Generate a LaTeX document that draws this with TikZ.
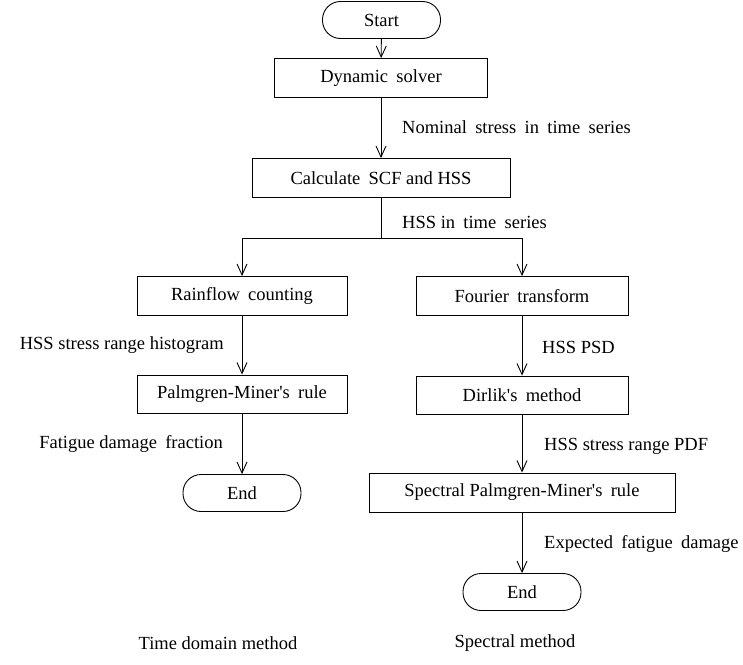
\documentclass[tikz,border=0pt]{standalone}
\usepackage{fontspec}
\setmainfont{Liberation Serif}
\usetikzlibrary{arrows.meta,positioning}
\newcommand{\ws}{\hspace{0.45em}}
\newcommand{\apo}{\textquotesingle}
\begin{document}
\begin{tikzpicture}[x=1pt,y=-1pt,
  every node/.style={font=\fontsize{18.5}{22}\selectfont, inner sep=0pt},
  box/.style={draw, line width=0.9pt, minimum height=39pt},
  term/.style={draw, line width=0.9pt, rounded corners=18pt, minimum width=118pt, minimum height=37pt},
  arr/.style={line width=0.9pt, -{Straight Barb[length=11pt,width=10pt,line width=0.9pt]}},
  lbl/.style={}]
\useasboundingbox (0,0) rectangle (743,664);
\node[term] (start) at (381.5,20) {Start};
\node[box, minimum width=213pt] (dyn) at (381,78) {Dynamic\ws solver};
\node[box, minimum width=258pt] (calc) at (381,178) {Calculate\ws SCF and HSS};
\node[box, minimum width=210pt] (rain) at (242,296) {Rainflow\ws counting};
\node[box, minimum width=212pt] (four) at (522,296) {Fourier\ws transform};
\node[box, minimum width=210pt, minimum height=38pt] (pm) at (242,394) {Palmgren-Miner\apo s\ws rule};
\node[term] (end1) at (242,493) {End};
\node[box, minimum width=212pt, minimum height=38pt] (dir) at (522,395) {Dirlik\apo s\ws method};
\node[box, minimum width=306pt] (spm) at (522,492.5) {Spectral Palmgren-Miner\apo s\ws rule};
\node[term] (end2) at (522,592) {End};
\coordinate (br) at (381,238);

\node[lbl, anchor=west] (l1) at (402,127) {Nominal\ws stress\ws in\ws time\ws series};
\node[lbl, anchor=west] (l2) at (402,222) {HSS in\ws time\ws series};
\node[lbl, anchor=east] (l3) at (224,345) {HSS stress range histogram};
\node[lbl, anchor=east] (l4) at (223,444) {Fatigue damage\ws fraction};
\node[lbl, anchor=west] (l5) at (542,347) {HSS PSD};
\node[lbl, anchor=west] (l6) at (544,446) {HSS stress range PDF};
\node[lbl, anchor=west] (l7) at (544,544) {Expected\ws fatigue\ws damage};
\node[lbl] (t1) at (218,643) {Time domain method};
\node[lbl] (t2) at (515,643) {Spectral method};

\draw[arr] (start) -- (dyn);
\draw[arr] (dyn) -- (calc);
\draw[line width=0.9pt] (calc.south) -- (br);
\draw[arr] (br) -| (rain.north);
\draw[arr] (br) -| (four.north);
\draw[arr] (rain) -- (pm);
\draw[arr] (pm) -- (end1);
\draw[arr] (four) -- (dir);
\draw[arr] (dir) -- (spm);
\draw[arr] (spm) -- (end2);
\end{tikzpicture}
\end{document}
